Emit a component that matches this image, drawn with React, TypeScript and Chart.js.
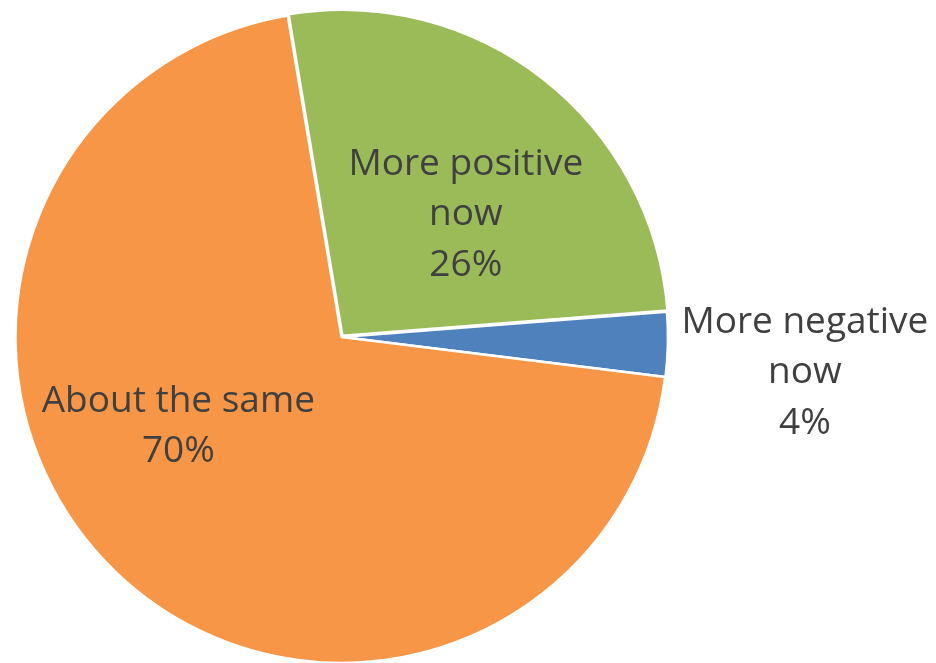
import React, { useEffect, useRef } from "react";
import { Chart, registerables } from "chart.js";

Chart.register(...registerables);

const categories = ["More positive now", "More negative now", "About the same"];
const shares = [26.4, 3.2, 70.4];
const percentLabels = ["26%", "4%", "70%"];
const labelLines = [["More positive", "now"], ["More negative", "now"], ["About the same"]];
const colors = ["#9BBB59", "#4F81BD", "#F79646"];

// label placement relative to each slice: angle shift from the mid-angle (deg) and radius factor
const labelPlacement = [
  { dAngle: 6.9, factor: 0.54 },
  { dAngle: 2.8, factor: 1.425 },
  { dAngle: 18.2, factor: 0.567 },
];

const labelPlugin = {
  id: "sliceLabels",
  afterDatasetsDraw(chart: any) {
    const ctx = chart.ctx;
    const meta = chart.getDatasetMeta(0);
    const fontSize = 37;
    const lineH = 50.5;
    const capHalf = 13;
    ctx.save();
    ctx.font = `${fontSize}px "Open Sans"`;
    ctx.fillStyle = "#404040";
    ctx.textAlign = "center";
    ctx.textBaseline = "alphabetic";
    meta.data.forEach((arc: any, i: number) => {
      const p = arc.getProps(["x", "y", "startAngle", "endAngle", "outerRadius"], true);
      const mid = (p.startAngle + p.endAngle) / 2 + (labelPlacement[i].dAngle * Math.PI) / 180;
      const r = p.outerRadius * labelPlacement[i].factor;
      const cx = p.x + Math.cos(mid) * r;
      const cy = p.y + Math.sin(mid) * r;
      const lines = [...labelLines[i], percentLabels[i]];
      const n = lines.length;
      lines.forEach((t, k) => {
        const y = cy + capHalf + (k - (n - 1) / 2) * lineH;
        ctx.fillText(t, cx, y);
      });
    });
    ctx.restore();
  },
};

export default function App() {
  const ref = useRef<HTMLCanvasElement | null>(null);
  useEffect(() => {
    if (!ref.current) return;
    const chart = new Chart(ref.current, {
      type: "pie",
      data: {
        labels: categories,
        datasets: [
          {
            data: shares,
            backgroundColor: colors,
            borderColor: "#FFFFFF",
            borderWidth: 2.5,
            offset: [6, 1, 0],
          },
        ],
      },
      options: {
        animation: false,
        responsive: true,
        maintainAspectRatio: false,
        rotation: -9.5,
        radius: 326,
        layout: { padding: { left: 0, right: 253, top: 11, bottom: 0 } },
        plugins: {
          legend: { display: false },
          tooltip: { enabled: false },
          title: { display: false },
        },
      },
      plugins: [labelPlugin],
    });
    return () => chart.destroy();
  }, []);
  return (
    <div style={{ position: "fixed", left: 0, top: 0, width: 936, height: 663, background: "#FFFFFF" }}>
      <canvas ref={ref} />
    </div>
  );
}
